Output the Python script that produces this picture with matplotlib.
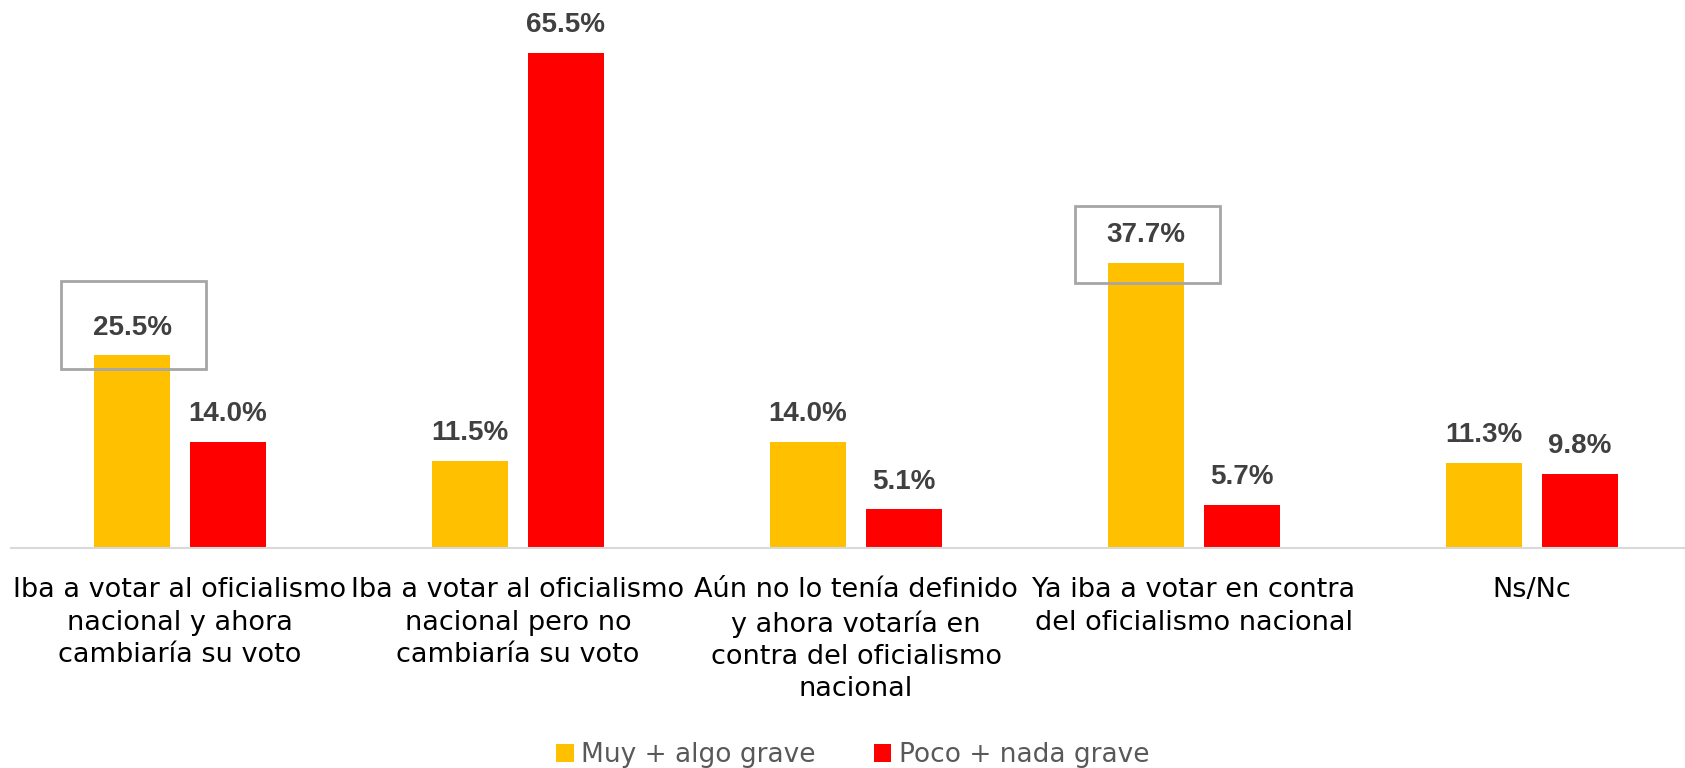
import matplotlib
matplotlib.use("Agg")
import matplotlib.pyplot as plt
from matplotlib.patches import Rectangle
import numpy as np

categories = [
    "Iba a votar al oficialismo\nnacional y ahora\ncambiaría su voto",
    "Iba a votar al oficialismo\nnacional pero no\ncambiaría su voto",
    "Aún no lo tenía definido\ny ahora votaría en\ncontra del oficialismo\nnacional",
    "Ya iba a votar en contra\ndel oficialismo nacional",
    "Ns/Nc",
]
muy_algo = [25.5, 11.5, 14.0, 37.7, 11.3]
poco_nada = [14.0, 65.5, 5.1, 5.7, 9.8]
series_names = ["Muy + algo grave", "Poco + nada grave"]
highlighted = [0, 3]  # groups whose yellow value is boxed

c_yellow = "#FFC000"
c_red = "#FF0000"
c_label = "#404040"

# frame extent below / above the bar top (in % units), per boxed group
frame_pad = {0: (1.8, 9.8), 3: (2.6, 7.6)}

plt.rcParams["font.family"] = ["DejaVu Sans"]

fig = plt.figure(figsize=(16.85, 7.68), dpi=100)
# axes runs slightly past the right edge, like the original
ax = fig.add_axes([11 / 1685, 220 / 768, 1690 / 1685, 529 / 768])

x = np.arange(len(categories))
w = 0.225
off = 0.142

b1 = ax.bar(x - off, muy_algo, w, color=c_yellow, label=series_names[0])
b2 = ax.bar(x + off, poco_nada, w, color=c_red, label=series_names[1])

for bars, vals in [(b1, muy_algo), (b2, poco_nada)]:
    for r, v in zip(bars, vals):
        ax.annotate(
            f"{v:.1f}%",
            (r.get_x() + r.get_width() / 2, v),
            xytext=(0, 20),
            textcoords="offset points",
            ha="center",
            va="center",
            fontsize=20,
            fontweight="bold",
            family=["Liberation Sans", "DejaVu Sans"],
            color=c_label,
        )

# grey frames round the highlighted labels
for i in highlighted:
    v = muy_algo[i]
    lo, hi = frame_pad[i]
    ax.add_patch(
        Rectangle(
            (x[i] - off - 0.21, v - lo),
            0.43,
            lo + hi,
            fill=False,
            edgecolor="#A6A6A6",
            lw=2,
            clip_on=False,
        )
    )

ax.set_xlim(-0.5, 4.5)
ax.set_ylim(0, 70)
ax.set_xticks(x)
ax.set_xticklabels(categories, fontsize=19.5, color="#000000", linespacing=1.32)
ax.tick_params(axis="x", length=0, pad=21)
ax.set_yticks([])

for s in ["top", "right", "left"]:
    ax.spines[s].set_visible(False)
ax.spines["bottom"].set_color("#D9D9D9")
ax.spines["bottom"].set_linewidth(1.5)

leg = ax.legend(
    loc="center",
    bbox_to_anchor=(0.5, -490 / 529),
    ncol=2,
    frameon=False,
    fontsize=19,
    labelcolor="#595959",
    handlelength=0.65,
    handleheight=0.65,
    handletextpad=0.3,
    columnspacing=2.2,
)
leg.set_bbox_to_anchor((853 / 1685, 1 - 755 / 768), transform=fig.transFigure)

fig.savefig("out.png", dpi=100)
